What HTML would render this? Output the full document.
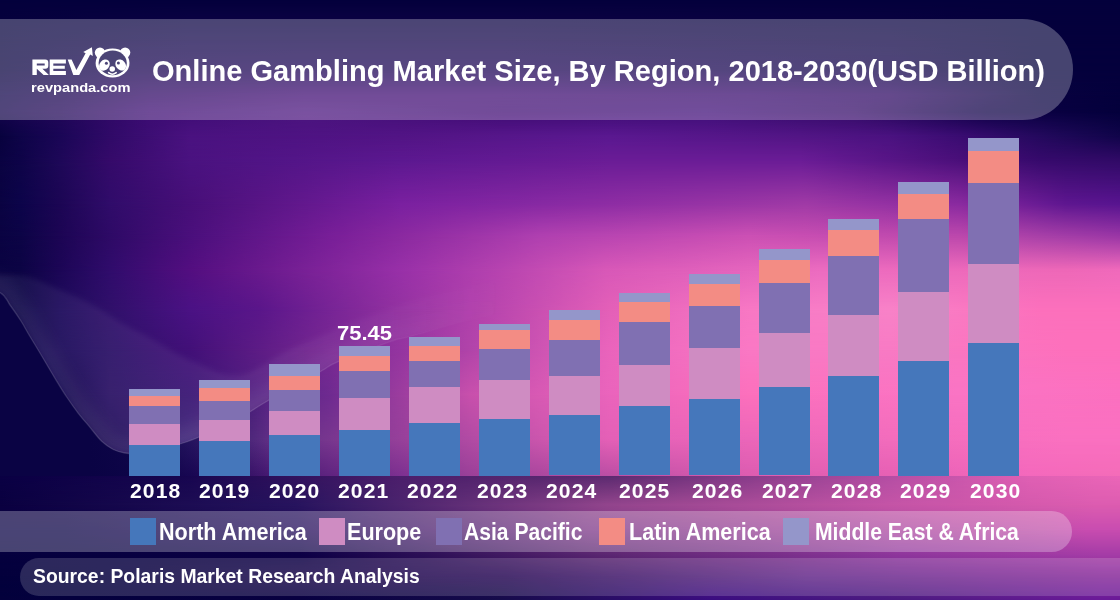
<!DOCTYPE html>
<html><head><meta charset="utf-8">
<style>
*{margin:0;padding:0;box-sizing:border-box}
html,body{width:1120px;height:600px;overflow:hidden}
body{position:relative;font-family:"Liberation Sans",Arial,sans-serif;color:#fff;font-weight:bold;
background:#0d0442;}
.bgr{position:absolute;left:0;width:1120px;overflow:hidden}
.bgr i{position:absolute;left:0;top:0;width:100%;height:100%;-webkit-mask-image:linear-gradient(to bottom,transparent,#000);mask-image:linear-gradient(to bottom,transparent,#000)}
.band{position:absolute;}
#hdr{left:0;top:18.8px;width:1073px;height:101px;border-radius:0 50.5px 50.5px 0;background:rgba(255,255,255,0.265)}
#leg{left:0;top:510.7px;width:1072px;height:41.1px;border-radius:0 20.25px 20.25px 0;background:rgba(255,255,255,0.265)}
#src{left:20px;top:558px;width:1140px;height:37.8px;border-radius:18.9px;background:rgba(255,255,255,0.155)}
.s{position:absolute;width:51px}
.t{position:absolute;line-height:1;white-space:nowrap;transform-origin:0 0}
.yr{position:absolute;top:481.1px;font-size:20.1px;font-family:'Liberation Sans',sans-serif;transform:scaleX(1.05);letter-spacing:1.03px;transform-origin:0 0;line-height:1;white-space:nowrap}
.li{position:absolute;top:518.1px;width:26.3px;height:26.6px}
#logo{position:absolute;left:0;top:0}
</style></head><body>
<div class="bgr" style="top:0px;height:40px;background:linear-gradient(to right,#04003c 0.00%,#04003c 100.00%)"><i style="background:linear-gradient(to right,#06013e 0.00%,#10034a 16.96%,#12034a 44.64%,#0c0244 79.46%,#04003c 92.86%,#04003c 100.00%)"></i></div>
<div class="bgr" style="top:40px;height:30px;background:linear-gradient(to right,#06013e 0.00%,#10034a 16.96%,#12034a 44.64%,#0c0244 79.46%,#04003c 92.86%,#04003c 100.00%)"><i style="background:linear-gradient(to right,#08013f 0.00%,#0e0248 5.36%,#190352 12.59%,#1c0455 26.79%,#1c0455 44.64%,#160350 66.96%,#10024a 79.46%,#04003c 92.86%,#04003c 100.00%)"></i></div>
<div class="bgr" style="top:70px;height:25px;background:linear-gradient(to right,#08013f 0.00%,#0e0248 5.36%,#190352 12.59%,#1c0455 26.79%,#1c0455 44.64%,#160350 66.96%,#10024a 79.46%,#04003c 92.86%,#04003c 100.00%)"><i style="background:linear-gradient(to right,#10034a 0.00%,#1a0452 5.36%,#300866 13.39%,#3f0b73 27.14%,#3f0b73 44.64%,#380a6e 66.96%,#2e0864 79.46%,#1c0552 85.71%,#080140 92.86%,#04003c 100.00%)"></i></div>
<div class="bgr" style="top:95px;height:17px;background:linear-gradient(to right,#10034a 0.00%,#1a0452 5.36%,#300866 13.39%,#3f0b73 27.14%,#3f0b73 44.64%,#380a6e 66.96%,#2e0864 79.46%,#1c0552 85.71%,#080140 92.86%,#04003c 100.00%)"><i style="background:linear-gradient(to right,#14044c 0.00%,#210658 5.36%,#3c0b73 13.39%,#4a147e 27.32%,#3f0b73 45.00%,#3f0e78 63.04%,#340b68 76.25%,#0e0047 88.04%,#04003c 100.00%)"></i></div>
<div class="bgr" style="top:112px;height:24px;background:linear-gradient(to right,#14044c 0.00%,#210658 5.36%,#3c0b73 13.39%,#4a147e 27.32%,#3f0b73 45.00%,#3f0e78 63.04%,#340b68 76.25%,#0e0047 88.04%,#04003c 100.00%)"><i style="background:linear-gradient(to right,#08023e 0.00%,#0e0448 1.79%,#1a0656 5.36%,#300a68 9.82%,#4a1280 16.96%,#521485 35.71%,#5a1890 54.46%,#521585 71.43%,#4a1280 79.46%,#3a0c72 85.71%,#1e0858 94.64%,#10044a 100.00%)"></i></div>
<div class="bgr" style="top:136px;height:24px;background:linear-gradient(to right,#08023e 0.00%,#0e0448 1.79%,#1a0656 5.36%,#300a68 9.82%,#4a1280 16.96%,#521485 35.71%,#5a1890 54.46%,#521585 71.43%,#4a1280 79.46%,#3a0c72 85.71%,#1e0858 94.64%,#10044a 100.00%)"><i style="background:linear-gradient(to right,#0a0342 0.00%,#0e0448 1.79%,#1e0858 5.36%,#350a6a 9.82%,#4a1280 16.96%,#5c1890 35.71%,#6a1c96 54.46%,#6a1c96 71.43%,#4a0f7a 85.71%,#360a6c 92.86%,#300a66 100.00%)"></i></div>
<div class="bgr" style="top:160px;height:44px;background:linear-gradient(to right,#0a0342 0.00%,#0e0448 1.79%,#1e0858 5.36%,#350a6a 9.82%,#4a1280 16.96%,#5c1890 35.71%,#6a1c96 54.46%,#6a1c96 71.43%,#4a0f7a 85.71%,#360a6c 92.86%,#300a66 100.00%)"><i style="background:linear-gradient(to right,#0a0342 0.00%,#0c044a 1.79%,#1c0654 5.36%,#300c6a 9.82%,#470f78 16.96%,#7a20a0 35.71%,#8c2ca4 52.68%,#a03aa6 71.96%,#8a2aa0 85.71%,#5e1690 95.18%,#581490 100.00%)"></i></div>
<div class="bgr" style="top:204px;height:32px;background:linear-gradient(to right,#0a0342 0.00%,#0c044a 1.79%,#1c0654 5.36%,#300c6a 9.82%,#470f78 16.96%,#7a20a0 35.71%,#8c2ca4 52.68%,#a03aa6 71.96%,#8a2aa0 85.71%,#5e1690 95.18%,#581490 100.00%)"><i style="background:linear-gradient(to right,#0a0342 0.00%,#0c0446 1.79%,#1c0554 5.36%,#2e0a66 9.82%,#4a0f7c 16.96%,#781e98 29.46%,#b040b0 48.21%,#cc50b4 66.79%,#bc48ac 85.62%,#a840a8 92.86%,#9a36a6 100.00%)"></i></div>
<div class="bgr" style="top:236px;height:34px;background:linear-gradient(to right,#0a0342 0.00%,#0c0446 1.79%,#1c0554 5.36%,#2e0a66 9.82%,#4a0f7c 16.96%,#781e98 29.46%,#b040b0 48.21%,#cc50b4 66.79%,#bc48ac 85.62%,#a840a8 92.86%,#9a36a6 100.00%)"><i style="background:linear-gradient(to right,#0a0342 0.00%,#0c0444 1.79%,#1c0656 5.36%,#300c6c 9.82%,#530e80 16.96%,#9830a8 35.71%,#d858b8 54.11%,#ec6cc0 73.30%,#ee68b8 95.18%,#f06abc 100.00%)"></i></div>
<div class="bgr" style="top:270px;height:40px;background:linear-gradient(to right,#0a0342 0.00%,#0c0444 1.79%,#1c0656 5.36%,#300c6c 9.82%,#530e80 16.96%,#9830a8 35.71%,#d858b8 54.11%,#ec6cc0 73.30%,#ee68b8 95.18%,#f06abc 100.00%)"><i style="background:linear-gradient(to right,#0a0244 0.00%,#0c0446 1.79%,#1e0c5c 5.36%,#30106a 9.82%,#4a1284 16.96%,#5a168a 23.21%,#b040ac 41.96%,#e460b8 54.46%,#f878c4 66.96%,#f882c8 79.46%,#fc70bc 92.86%,#fc70bc 100.00%)"></i></div>
<div class="bgr" style="top:310px;height:40px;background:linear-gradient(to right,#0a0244 0.00%,#0c0446 1.79%,#1e0c5c 5.36%,#30106a 9.82%,#4a1284 16.96%,#5a168a 23.21%,#b040ac 41.96%,#e460b8 54.46%,#f878c4 66.96%,#f882c8 79.46%,#fc70bc 92.86%,#fc70bc 100.00%)"><i style="background:linear-gradient(to right,#0a0046 0.00%,#0a0046 1.79%,#1c0c5a 5.36%,#2c1268 9.82%,#421078 16.96%,#9434a0 35.71%,#ea64bc 54.37%,#fa78c4 66.88%,#f87ac4 79.46%,#fd70bc 95.18%,#fd70bc 100.00%)"></i></div>
<div class="bgr" style="top:350px;height:45px;background:linear-gradient(to right,#0a0046 0.00%,#0a0046 1.79%,#1c0c5a 5.36%,#2c1268 9.82%,#421078 16.96%,#9434a0 35.71%,#ea64bc 54.37%,#fa78c4 66.88%,#f87ac4 79.46%,#fd70bc 95.18%,#fd70bc 100.00%)"><i style="background:linear-gradient(to right,#0a0046 0.00%,#10044c 5.36%,#2c1466 9.82%,#3a1674 16.96%,#6e2a90 29.38%,#c850ac 41.96%,#ea64bc 54.46%,#fc70bc 66.88%,#fa74c4 85.62%,#fc70c0 100.00%)"></i></div>
<div class="bgr" style="top:395px;height:45px;background:linear-gradient(to right,#0a0046 0.00%,#10044c 5.36%,#2c1466 9.82%,#3a1674 16.96%,#6e2a90 29.38%,#c850ac 41.96%,#ea64bc 54.46%,#fc70bc 66.88%,#fa74c4 85.62%,#fc70c0 100.00%)"><i style="background:linear-gradient(to right,#0a0044 0.00%,#0c0444 5.36%,#22105a 9.82%,#3e2478 16.96%,#96409a 35.71%,#e460b6 54.37%,#f26cbc 79.38%,#fa70c0 95.18%,#fa70c0 100.00%)"></i></div>
<div class="bgr" style="top:440px;height:35.5px;background:linear-gradient(to right,#0a0044 0.00%,#0c0444 5.36%,#22105a 9.82%,#3e2478 16.96%,#96409a 35.71%,#e460b6 54.37%,#f26cbc 79.38%,#fa70c0 95.18%,#fa70c0 100.00%)"><i style="background:linear-gradient(to right,#0a0044 0.00%,#0c044a 5.36%,#240a5e 16.96%,#7c3090 35.71%,#9a4098 41.96%,#dc5cb0 66.88%,#e660b4 79.46%,#f468bc 91.96%,#f46cb8 100.00%)"></i></div>
<div class="bgr" style="top:475.5px;height:29.5px;background:linear-gradient(to right,#0a0044 0.00%,#180650 16.96%,#4c1e6c 35.71%,#5c2a70 54.46%,#b44ea4 79.46%,#e060b4 91.96%,#ec66b8 100.00%)"><i style="background:linear-gradient(to right,#0a0040 0.00%,#27145e 26.43%,#92458c 54.11%,#c454a6 79.11%,#dc5cb0 97.86%,#dc5cb0 100.00%)"></i></div>
<div class="bgr" style="top:505px;height:25px;background:linear-gradient(to right,#0a0040 0.00%,#27145e 26.43%,#92458c 54.11%,#c454a6 79.11%,#dc5cb0 97.86%,#dc5cb0 100.00%)"><i style="background:linear-gradient(to right,#090045 0.00%,#090045 5.89%,#200858 26.79%,#7b3486 52.77%,#ac46a0 80.36%,#bf4fa9 92.95%,#c84cb0 96.96%,#c84cb0 100.00%)"></i></div>
<div class="bgr" style="top:530px;height:25px;background:linear-gradient(to right,#090045 0.00%,#090045 5.89%,#200858 26.79%,#7b3486 52.77%,#ac46a0 80.36%,#bf4fa9 92.95%,#c84cb0 96.96%,#c84cb0 100.00%)"><i style="background:linear-gradient(to right,#05003e 0.00%,#0c0044 26.79%,#5a2670 53.57%,#8e369c 80.36%,#a43ca6 98.21%,#a43ca6 100.00%)"></i></div>
<div class="bgr" style="top:555px;height:21px;background:linear-gradient(to right,#05003e 0.00%,#0c0044 26.79%,#5a2670 53.57%,#8e369c 80.36%,#a43ca6 98.21%,#a43ca6 100.00%)"><i style="background:linear-gradient(to right,#03003c 0.00%,#06013e 8.93%,#290a56 45.18%,#64298a 71.96%,#87299a 98.75%,#87299a 100.00%)"></i></div>
<div class="bgr" style="top:576px;height:24px;background:linear-gradient(to right,#03003c 0.00%,#06013e 8.93%,#290a56 45.18%,#64298a 71.96%,#87299a 98.75%,#87299a 100.00%)"><i style="background:linear-gradient(to right,#03003c 0.00%,#070040 26.79%,#150c4a 44.64%,#3a0c80 63.39%,#4a1a80 80.36%,#6a1a98 98.21%,#6a1a98 100.00%)"></i></div>
<svg id="wave" width="1120" height="600" viewBox="0 0 1120 600" style="position:absolute;left:0;top:0">
<defs>
<clipPath id="cabove"><path d="M-30.0,282.0 C-25.0,283.8 -6.7,288.7 0.0,292.5 C6.7,296.3 6.5,300.2 10.0,305.0 C13.5,309.8 17.7,315.8 21.0,321.0 C24.3,326.2 26.8,331.2 30.0,336.5 C33.2,341.8 35.8,346.0 40.0,353.0 C44.2,360.0 50.5,371.0 55.0,378.3 C59.5,385.6 62.8,391.2 66.7,397.0 C70.6,402.8 74.4,408.2 78.3,413.3 C82.2,418.4 86.1,422.6 90.0,427.3 C93.9,432.0 97.8,437.6 101.7,441.3 C105.6,445.0 109.4,447.6 113.3,449.5 C117.2,451.4 121.0,452.3 125.0,453.0 C128.9,453.7 132.8,453.9 137.0,453.5 C141.2,453.1 145.3,451.6 150.0,450.5 C154.7,449.4 159.5,448.2 165.0,447.0 C170.5,445.8 176.9,444.8 183.0,443.0 C189.1,441.2 195.3,438.7 201.5,436.0 C207.7,433.3 213.9,430.1 220.0,427.0 C226.1,423.9 233.0,420.2 238.0,417.6 C243.0,415.1 244.8,414.6 250.0,411.7 C255.2,408.8 257.3,406.7 269.0,400.0 C280.7,393.3 308.5,378.1 320.0,371.7 C331.5,365.3 326.3,366.7 338.0,361.7 C349.7,356.7 378.2,345.9 390.0,341.7 C401.8,337.5 394.0,340.6 409.0,336.7 C424.0,332.8 454.8,323.8 480.0,318.0 C505.2,312.2 533.3,306.3 560.0,302.0 C586.7,297.7 626.7,293.7 640.0,292.0 L640,150 L-30,150 Z"/></clipPath>
<linearGradient id="gdark" x1="0" y1="0" x2="1120" y2="0" gradientUnits="userSpaceOnUse">
<stop offset="0" stop-color="#0a0344" stop-opacity="1"/><stop offset="0.08" stop-color="#0a0344" stop-opacity="1"/>
<stop offset="0.13" stop-color="#0a0344" stop-opacity="0.75"/><stop offset="0.24" stop-color="#0a0344" stop-opacity="0"/></linearGradient>
<linearGradient id="gline" x1="0" y1="0" x2="1120" y2="0" gradientUnits="userSpaceOnUse">
<stop offset="0" stop-color="#fff" stop-opacity="0.15"/><stop offset="0.2" stop-color="#fff" stop-opacity="0.15"/>
<stop offset="0.3" stop-color="#fff" stop-opacity="0.1"/><stop offset="0.4" stop-color="#fff" stop-opacity="0"/></linearGradient>
<linearGradient id="gband" x1="0" y1="0" x2="1120" y2="0" gradientUnits="userSpaceOnUse">
<stop offset="0" stop-color="#fff" stop-opacity="1"/><stop offset="0.25" stop-color="#fff" stop-opacity="1"/>
<stop offset="0.45" stop-color="#fff" stop-opacity="0"/></linearGradient>
<filter id="fb" filterUnits="userSpaceOnUse" x="-100" y="0" width="1400" height="700"><feGaussianBlur stdDeviation="6"/></filter>
<filter id="fb2" filterUnits="userSpaceOnUse" x="-100" y="0" width="1400" height="700"><feGaussianBlur stdDeviation="2.5"/></filter>
</defs>
<path d="M-30.0,282.0 C-25.0,283.8 -6.7,288.7 0.0,292.5 C6.7,296.3 6.5,300.2 10.0,305.0 C13.5,309.8 17.7,315.8 21.0,321.0 C24.3,326.2 26.8,331.2 30.0,336.5 C33.2,341.8 35.8,346.0 40.0,353.0 C44.2,360.0 50.5,371.0 55.0,378.3 C59.5,385.6 62.8,391.2 66.7,397.0 C70.6,402.8 74.4,408.2 78.3,413.3 C82.2,418.4 86.1,422.6 90.0,427.3 C93.9,432.0 97.8,437.6 101.7,441.3 C105.6,445.0 109.4,447.6 113.3,449.5 C117.2,451.4 121.0,452.3 125.0,453.0 C128.9,453.7 132.8,453.9 137.0,453.5 C141.2,453.1 145.3,451.6 150.0,450.5 C154.7,449.4 159.5,448.2 165.0,447.0 C170.5,445.8 176.9,444.8 183.0,443.0 C189.1,441.2 195.3,438.7 201.5,436.0 C207.7,433.3 213.9,430.1 220.0,427.0 C226.1,423.9 233.0,420.2 238.0,417.6 C243.0,415.1 244.8,414.6 250.0,411.7 C255.2,408.8 257.3,406.7 269.0,400.0 C280.7,393.3 308.5,378.1 320.0,371.7 C331.5,365.3 326.3,366.7 338.0,361.7 C349.7,356.7 378.2,345.9 390.0,341.7 C401.8,337.5 394.0,340.6 409.0,336.7 C424.0,332.8 454.8,323.8 480.0,318.0 C505.2,312.2 533.3,306.3 560.0,302.0 C586.7,297.7 626.7,293.7 640.0,292.0 L640,476 L-30,476 Z" fill="url(#gdark)"/>
<g clip-path="url(#cabove)">
<path d="M-30.0,282.0 C-25.0,283.8 -6.7,288.7 0.0,292.5 C6.7,296.3 6.5,300.2 10.0,305.0 C13.5,309.8 17.7,315.8 21.0,321.0 C24.3,326.2 26.8,331.2 30.0,336.5 C33.2,341.8 35.8,346.0 40.0,353.0 C44.2,360.0 50.5,371.0 55.0,378.3 C59.5,385.6 62.8,391.2 66.7,397.0 C70.6,402.8 74.4,408.2 78.3,413.3 C82.2,418.4 86.1,422.6 90.0,427.3 C93.9,432.0 97.8,437.6 101.7,441.3 C105.6,445.0 109.4,447.6 113.3,449.5 C117.2,451.4 121.0,452.3 125.0,453.0 C128.9,453.7 132.8,453.9 137.0,453.5 C141.2,453.1 145.3,451.6 150.0,450.5 C154.7,449.4 159.5,448.2 165.0,447.0 C170.5,445.8 176.9,444.8 183.0,443.0 C189.1,441.2 195.3,438.7 201.5,436.0 C207.7,433.3 213.9,430.1 220.0,427.0 C226.1,423.9 233.0,420.2 238.0,417.6 C243.0,415.1 244.8,414.6 250.0,411.7 C255.2,408.8 257.3,406.7 269.0,400.0 C280.7,393.3 308.5,378.1 320.0,371.7 C331.5,365.3 326.3,366.7 338.0,361.7 C349.7,356.7 378.2,345.9 390.0,341.7 C401.8,337.5 394.0,340.6 409.0,336.7 C424.0,332.8 454.8,323.8 480.0,318.0 C505.2,312.2 533.3,306.3 560.0,302.0 C586.7,297.7 626.7,293.7 640.0,292.0 L640.0,250.0 C603.3,258.3 476.7,284.2 420.0,300.0 C363.3,315.8 330.0,332.5 300.0,345.0 C270.0,357.5 258.3,372.5 240.0,375.0 C221.7,377.5 205.0,366.2 190.0,360.0 C175.0,353.8 161.7,344.3 150.0,338.0 C138.3,331.7 129.5,327.5 120.0,322.0 C110.5,316.5 103.3,310.5 93.0,305.0 C82.7,299.5 68.8,293.7 58.0,289.0 C47.2,284.3 37.7,279.3 28.0,277.0 C18.3,274.7 9.7,275.2 0.0,275.0 C-9.7,274.8 -25.0,275.8 -30.0,276.0 Z" fill="url(#gband)" fill-opacity="0.055" filter="url(#fb2)"/>
<g filter="url(#fb)" fill="none" stroke="url(#gband)">
<path d="M-30.0,282.0 C-25.0,283.8 -6.7,288.7 0.0,292.5 C6.7,296.3 6.5,300.2 10.0,305.0 C13.5,309.8 17.7,315.8 21.0,321.0 C24.3,326.2 26.8,331.2 30.0,336.5 C33.2,341.8 35.8,346.0 40.0,353.0 C44.2,360.0 50.5,371.0 55.0,378.3 C59.5,385.6 62.8,391.2 66.7,397.0 C70.6,402.8 74.4,408.2 78.3,413.3 C82.2,418.4 86.1,422.6 90.0,427.3 C93.9,432.0 97.8,437.6 101.7,441.3 C105.6,445.0 109.4,447.6 113.3,449.5 C117.2,451.4 121.0,452.3 125.0,453.0 C128.9,453.7 132.8,453.9 137.0,453.5 C141.2,453.1 145.3,451.6 150.0,450.5 C154.7,449.4 159.5,448.2 165.0,447.0 C170.5,445.8 176.9,444.8 183.0,443.0 C189.1,441.2 195.3,438.7 201.5,436.0 C207.7,433.3 213.9,430.1 220.0,427.0 C226.1,423.9 233.0,420.2 238.0,417.6 C243.0,415.1 244.8,414.6 250.0,411.7 C255.2,408.8 257.3,406.7 269.0,400.0 C280.7,393.3 308.5,378.1 320.0,371.7 C331.5,365.3 326.3,366.7 338.0,361.7 C349.7,356.7 378.2,345.9 390.0,341.7 C401.8,337.5 394.0,340.6 409.0,336.7 C424.0,332.8 454.8,323.8 480.0,318.0 C505.2,312.2 533.3,306.3 560.0,302.0 C586.7,297.7 626.7,293.7 640.0,292.0" stroke-width="30" stroke-opacity="0.05"/>
</g></g>
<path d="M-30.0,282.0 C-25.0,283.8 -6.7,288.7 0.0,292.5 C6.7,296.3 6.5,300.2 10.0,305.0 C13.5,309.8 17.7,315.8 21.0,321.0 C24.3,326.2 26.8,331.2 30.0,336.5 C33.2,341.8 35.8,346.0 40.0,353.0 C44.2,360.0 50.5,371.0 55.0,378.3 C59.5,385.6 62.8,391.2 66.7,397.0 C70.6,402.8 74.4,408.2 78.3,413.3 C82.2,418.4 86.1,422.6 90.0,427.3 C93.9,432.0 97.8,437.6 101.7,441.3 C105.6,445.0 109.4,447.6 113.3,449.5 C117.2,451.4 121.0,452.3 125.0,453.0 C128.9,453.7 132.8,453.9 137.0,453.5 C141.2,453.1 145.3,451.6 150.0,450.5 C154.7,449.4 159.5,448.2 165.0,447.0 C170.5,445.8 176.9,444.8 183.0,443.0 C189.1,441.2 195.3,438.7 201.5,436.0 C207.7,433.3 213.9,430.1 220.0,427.0 C226.1,423.9 233.0,420.2 238.0,417.6 C243.0,415.1 244.8,414.6 250.0,411.7 C255.2,408.8 257.3,406.7 269.0,400.0 C280.7,393.3 308.5,378.1 320.0,371.7 C331.5,365.3 326.3,366.7 338.0,361.7 C349.7,356.7 378.2,345.9 390.0,341.7 C401.8,337.5 394.0,340.6 409.0,336.7 C424.0,332.8 454.8,323.8 480.0,318.0 C505.2,312.2 533.3,306.3 560.0,302.0 C586.7,297.7 626.7,293.7 640.0,292.0" fill="none" stroke="url(#gline)" stroke-width="1.3"/>
</svg>
<div id="hdr" class="band"></div>
<div id="leg" class="band"></div>
<div id="src" class="band"></div>
<svg id="logo" width="140" height="100" viewBox="0 0 140 100">
<g fill="#fff">
<path fill-rule="evenodd" d="M32.4 59.6H45.3Q48.3 59.6 48.3 62.6V65.7Q48.3 68.7 45.3 68.7H42.4L48.9 74.9H43.6L36.8 68.7V74.9H32.4Z M36.8 63.4V65.5H44.7V63.4Z"/>
<path d="M49.7 59.6H65.9V63.4H53.3V65.8H64.8V68.7H53.3V71.1H65.9V74.9H49.7Z"/>
<path d="M67.7 59.6H71.6L76.4 70 85.6 53.2 83.3 52.1 91.9 47.2 92.8 55.9 90.2 54.6 79.2 74.9H73.3Z"/>
<ellipse cx="112.55" cy="63" rx="16.95" ry="14.6"/>
<circle cx="100" cy="52.6" r="5.2"/><circle cx="125.1" cy="52.6" r="5.2"/>
</g>
<ellipse cx="112.7" cy="62.9" rx="14.1" ry="12.3" fill="#4b4476"/>
<g fill="#fff">
<ellipse cx="104.4" cy="65.1" rx="6.1" ry="4.8" transform="rotate(-50 104.4 65.1)"/>
<ellipse cx="120.7" cy="65" rx="6.1" ry="4.8" transform="rotate(50 120.7 65)"/>
<circle cx="112.25" cy="69" r="2.75"/>
<path d="M108.6 72.7q3.8 3 7.6 0" stroke="#fff" stroke-width="1.6" fill="none" stroke-linecap="round"/>
</g>
<circle cx="106.4" cy="63.2" r="1.5" fill="#4b4476"/><circle cx="118.4" cy="63.1" r="1.5" fill="#4b4476"/>
</svg>
<div class="t" style="left:31.03px;top:81.2px;font-size:13.7px;font-family:'Liberation Sans',sans-serif;transform:scaleX(1.0725);">revpanda.com</div>
<div class="t" style="left:151.91px;top:56.0px;font-size:29.5px;font-family:'Liberation Sans',sans-serif;transform:scaleX(0.9851);">Online Gambling Market Size, By Region, 2018-2030(USD Billion)</div>
<div class="s" style="left:129px;top:389px;height:86.5px;background:linear-gradient(to bottom,#9496ca 0,#9496ca 6.70px,#f38c84 6.70px,#f38c84 17.00px,#8070b2 17.00px,#8070b2 34.70px,#cf8cc2 34.70px,#cf8cc2 55.80px,#4577bb 55.80px,#4577bb 100%)"></div>
<div class="yr" style="left:129.80px">2018</div>
<div class="s" style="left:199px;top:380px;height:95.5px;background:linear-gradient(to bottom,#9496ca 0,#9496ca 7.60px,#f38c84 7.60px,#f38c84 20.80px,#8070b2 20.80px,#8070b2 39.70px,#cf8cc2 39.70px,#cf8cc2 61.10px,#4577bb 61.10px,#4577bb 100%)"></div>
<div class="yr" style="left:199.00px">2019</div>
<div class="s" style="left:269px;top:364px;height:111.5px;background:linear-gradient(to bottom,#9496ca 0,#9496ca 11.50px,#f38c84 11.50px,#f38c84 26.00px,#8070b2 26.00px,#8070b2 46.70px,#cf8cc2 46.70px,#cf8cc2 71.50px,#4577bb 71.50px,#4577bb 100%)"></div>
<div class="yr" style="left:269.00px">2020</div>
<div class="s" style="left:339px;top:346px;height:129.5px;background:linear-gradient(to bottom,#9496ca 0,#9496ca 10.00px,#f38c84 10.00px,#f38c84 24.70px,#8070b2 24.70px,#8070b2 52.00px,#cf8cc2 52.00px,#cf8cc2 84.00px,#4577bb 84.00px,#4577bb 100%)"></div>
<div class="yr" style="left:338.00px">2021</div>
<div class="s" style="left:409px;top:337px;height:138.5px;background:linear-gradient(to bottom,#9496ca 0,#9496ca 9.00px,#f38c84 9.00px,#f38c84 23.60px,#8070b2 23.60px,#8070b2 50.50px,#cf8cc2 50.50px,#cf8cc2 86.50px,#4577bb 86.50px,#4577bb 100%)"></div>
<div class="yr" style="left:407.00px">2022</div>
<div class="s" style="left:479px;top:324px;height:151.5px;background:linear-gradient(to bottom,#9496ca 0,#9496ca 6.30px,#f38c84 6.30px,#f38c84 25.00px,#8070b2 25.00px,#8070b2 55.70px,#cf8cc2 55.70px,#cf8cc2 95.30px,#4577bb 95.30px,#4577bb 100%)"></div>
<div class="yr" style="left:477.00px">2023</div>
<div class="s" style="left:549px;top:309.7px;height:165.8px;background:linear-gradient(to bottom,#9496ca 0,#9496ca 10.00px,#f38c84 10.00px,#f38c84 30.30px,#8070b2 30.30px,#8070b2 66.30px,#cf8cc2 66.30px,#cf8cc2 105.00px,#4577bb 105.00px,#4577bb 100%)"></div>
<div class="yr" style="left:545.75px">2024</div>
<div class="s" style="left:619px;top:292.7px;height:182.8px;background:linear-gradient(to bottom,#9496ca 0,#9496ca 9.00px,#f38c84 9.00px,#f38c84 29.30px,#8070b2 29.30px,#8070b2 71.60px,#cf8cc2 71.60px,#cf8cc2 113.30px,#4577bb 113.30px,#4577bb 100%)"></div>
<div class="yr" style="left:619.25px">2025</div>
<div class="s" style="left:689px;top:273.6px;height:201.9px;background:linear-gradient(to bottom,#9496ca 0,#9496ca 10.00px,#f38c84 10.00px,#f38c84 32.00px,#8070b2 32.00px,#8070b2 74.40px,#cf8cc2 74.40px,#cf8cc2 124.80px,#4577bb 124.80px,#4577bb 100%)"></div>
<div class="yr" style="left:691.75px">2026</div>
<div class="s" style="left:759px;top:248.8px;height:226.7px;background:linear-gradient(to bottom,#9496ca 0,#9496ca 10.80px,#f38c84 10.80px,#f38c84 34.40px,#8070b2 34.40px,#8070b2 84.00px,#cf8cc2 84.00px,#cf8cc2 138.00px,#4577bb 138.00px,#4577bb 100%)"></div>
<div class="yr" style="left:761.75px">2027</div>
<div class="s" style="left:828px;top:219px;height:256.5px;background:linear-gradient(to bottom,#9496ca 0,#9496ca 10.75px,#f38c84 10.75px,#f38c84 37.00px,#8070b2 37.00px,#8070b2 96.00px,#cf8cc2 96.00px,#cf8cc2 156.75px,#4577bb 156.75px,#4577bb 100%)"></div>
<div class="yr" style="left:831.15px">2028</div>
<div class="s" style="left:898px;top:182.25px;height:293.25px;background:linear-gradient(to bottom,#9496ca 0,#9496ca 12.50px,#f38c84 12.50px,#f38c84 36.75px,#8070b2 36.75px,#8070b2 110.50px,#cf8cc2 110.50px,#cf8cc2 179.50px,#4577bb 179.50px,#4577bb 100%)"></div>
<div class="yr" style="left:900.25px">2029</div>
<div class="s" style="left:968px;top:138px;height:337.5px;background:linear-gradient(to bottom,#9496ca 0,#9496ca 13.00px,#f38c84 13.00px,#f38c84 45.00px,#8070b2 45.00px,#8070b2 126.00px,#cf8cc2 126.00px,#cf8cc2 205.50px,#4577bb 205.50px,#4577bb 100%)"></div>
<div class="yr" style="left:969.85px">2030</div>
<div class="t" style="left:336.69px;top:323.1px;font-size:20.6px;font-family:'Liberation Sans',sans-serif;transform:scaleX(1.065);">75.45</div>
<div class="li" style="left:130px;background:#4577bb"></div><div class="t" style="left:158.96px;top:521.0px;font-size:23px;font-family:'Liberation Sans',sans-serif;transform:scaleX(0.9376);">North America</div>
<div class="li" style="left:318.8px;background:#cf8cc2"></div><div class="t" style="left:346.86px;top:521.0px;font-size:23px;font-family:'Liberation Sans',sans-serif;transform:scaleX(0.9372);">Europe</div>
<div class="li" style="left:436px;background:#8070b2"></div><div class="t" style="left:463.68px;top:521.0px;font-size:23px;font-family:'Liberation Sans',sans-serif;transform:scaleX(0.9173);">Asia Pacific</div>
<div class="li" style="left:598.9px;background:#f38c84"></div><div class="t" style="left:628.66px;top:521.0px;font-size:23px;font-family:'Liberation Sans',sans-serif;transform:scaleX(0.9364);">Latin America</div>
<div class="li" style="left:782.7px;background:#9496ca"></div><div class="t" style="left:815.08px;top:521.0px;font-size:23px;font-family:'Liberation Sans',sans-serif;transform:scaleX(0.9199);">Middle East &amp; Africa</div>
<div class="t" style="left:32.63px;top:566.0px;font-size:20px;font-family:'Liberation Sans',sans-serif;transform:scaleX(0.968);">Source: Polaris Market Research Analysis</div>
</body></html>
